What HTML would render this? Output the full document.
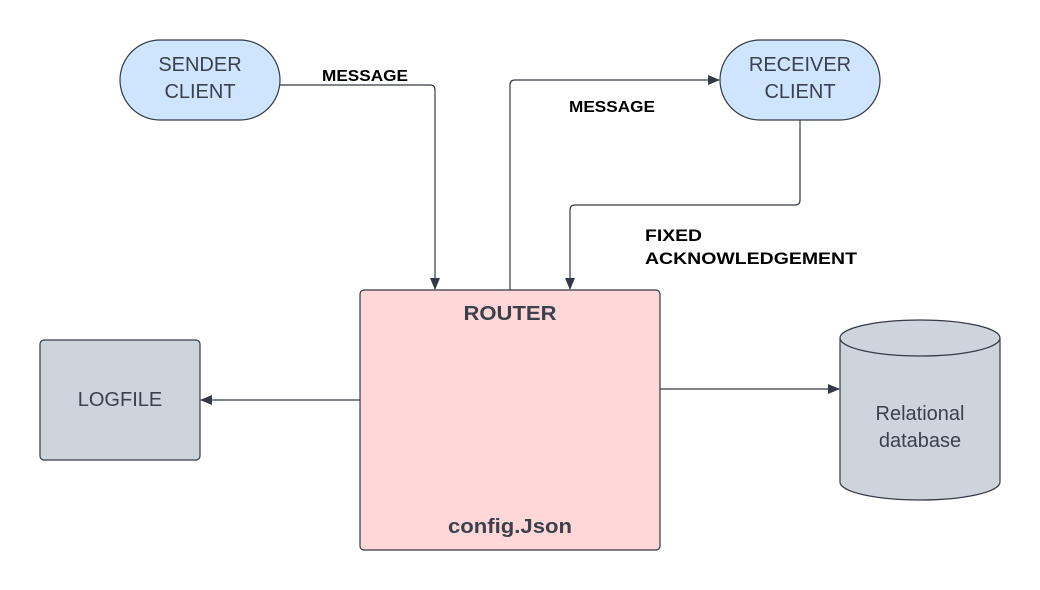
<!DOCTYPE html>
<html><head><style>body{margin:0;background:#fff}svg{display:block}text{font-family:"Liberation Sans",sans-serif}</style></head><body>
<svg width="1040" height="590" viewBox="0 0 1040 590">
<defs><marker id="a" markerWidth="12" markerHeight="10" refX="11" refY="5" orient="auto" markerUnits="userSpaceOnUse"><path d="M0,0 L12,5 L0,10 Z" fill="#333a45"/></marker></defs>
<g fill="none" stroke="#333a45" stroke-width="1.2">
<path d="M280,85 H430 Q435,85 435,90 V289" marker-end="url(#a)"/>
<path d="M510,290 V85 Q510,80 515,80 H719" marker-end="url(#a)"/>
<path d="M800,120 V200 Q800,205 795,205 H575 Q570,205 570,210 V289" marker-end="url(#a)"/>
<path d="M360,400 H201" marker-end="url(#a)"/>
<path d="M660,389 H839" marker-end="url(#a)"/>
</g>
<rect x="120" y="40" width="160" height="80" rx="40" fill="#cfe4ff" stroke="#333a45" stroke-width="1.2"/>
<rect x="720" y="40" width="160" height="80" rx="40" fill="#cfe4ff" stroke="#333a45" stroke-width="1.2"/>
<rect x="360" y="290" width="300" height="260" rx="4" fill="#ffd7d8" stroke="#333a45" stroke-width="1.2"/>
<rect x="40" y="340" width="160" height="120" rx="4" fill="#ced4db" stroke="#333a45" stroke-width="1.2"/>
<path d="M840,338 V482 A80,18 0 0 0 1000,482 V338" fill="#ced4db" stroke="#333a45" stroke-width="1.2"/>
<ellipse cx="920" cy="338" rx="80" ry="18" fill="#ced4db" stroke="#333a45" stroke-width="1.2"/>
<g fill="#3a414a" font-size="20" text-anchor="middle">
<text x="200" y="71">SENDER</text><text x="200" y="98">CLIENT</text>
<text x="800" y="71">RECEIVER</text><text x="800" y="98">CLIENT</text>
<text x="120" y="406">LOGFILE</text>
<text x="920" y="420">Relational</text><text x="920" y="447">database</text>
<text x="510" y="320" font-weight="bold" textLength="93" lengthAdjust="spacingAndGlyphs">ROUTER</text>
<text x="510" y="533" font-weight="bold" textLength="124" lengthAdjust="spacingAndGlyphs">config.Json</text>
</g>
<g fill="#000" font-size="16" font-weight="bold">
<text x="322" y="81" textLength="86" lengthAdjust="spacingAndGlyphs">MESSAGE</text>
<text x="569" y="112" textLength="86" lengthAdjust="spacingAndGlyphs">MESSAGE</text>
<text x="645" y="241" font-size="17" textLength="57" lengthAdjust="spacingAndGlyphs">FIXED</text>
<text x="645" y="264" font-size="17" textLength="212" lengthAdjust="spacingAndGlyphs">ACKNOWLEDGEMENT</text>
</g>
</svg>
</body></html>
